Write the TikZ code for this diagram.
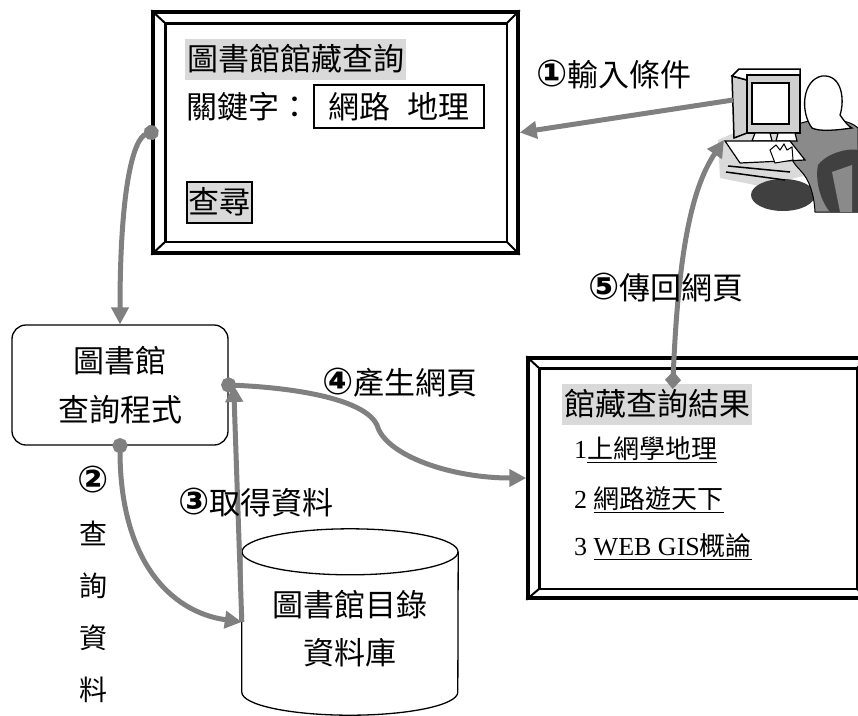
\documentclass[tikz,border=0pt]{standalone}
\usepackage{fontspec}
\setmainfont{Liberation Serif}
\newfontfamily\cjk{Noto Sans CJK TC}
\newfontfamily\circfont{DejaVu Sans Bold}
\usetikzlibrary{arrows.meta,calc}
\definecolor{flowgray}{HTML}{808080}
\definecolor{hlgray}{HTML}{D9D9D9}
\definecolor{chairgray}{HTML}{404040}
\definecolor{bodygray}{HTML}{8A8A8A}
\definecolor{panelgray}{HTML}{D0D0D0}
\newcommand\fsz[1]{\fontsize{#1}{#1}\selectfont}
\newcommand\stepno[1]{{\circfont\fontsize{37}{37}\selectfont #1}}
\tikzset{
  flow/.style={line width=5pt, draw=flowgray},
  arrowend/.style={-{Triangle[length=17pt,width=17pt]}},
  dottip/.style={{Circle[length=15pt]}-{Triangle[length=17pt,width=17pt]}, shorten <=-7.5pt},
  diamondtip/.style={{Diamond[length=18pt,width=16pt]}-{Triangle[length=17pt,width=17pt]}, shorten <=-9pt},
  bevelframe/.style={draw, line width=3.5pt, inner sep=0pt},
  hlbox/.style={fill=hlgray, inner xsep=2pt, inner ysep=5pt, text height=27pt, text depth=4pt, font=\cjk\fsz{31}},
  steptext/.style={font=\cjk\fsz{31}, inner sep=0pt},
  itemtext/.style={font=\fsz{26}, inner sep=0pt, anchor=west},
}
\begin{document}
\begin{tikzpicture}[x=1pt,y=-1pt]
\useasboundingbox (0,0) rectangle (858,715);

% ---------- search form window ----------
\node[bevelframe, minimum width=365pt, minimum height=241pt] (query) at (335.5,132.5) {};
\node[hlbox, anchor=west] (qtitle) at (185,59) {圖書館館藏查詢};
\node[steptext, anchor=west] (kwlabel) at (186,107) {關鍵字：};
\node[draw, line width=1.6pt, minimum width=170pt, minimum height=43pt, font=\cjk\fsz{31}, inner sep=0pt] (kwbox) at (399,106.5) {網路\hspace{18pt}地理};
\node[hlbox, draw, line width=2pt, inner xsep=1.5pt] (searchbtn) at (219,202) {查尋};

% ---------- result window ----------
\node[bevelframe, minimum width=340pt, minimum height=240pt] (result) at (698,478) {};
\node[hlbox] (rtitle) at (657,404) {館藏查詢結果};
\node[itemtext] (item1) at (574,450) {1\underline{\cjk 上網學地理}};
\node[itemtext] (item2) at (574,500) {2 \underline{\cjk 網路遊天下}};
\node[itemtext] (item3) at (574,547) {3 \underline{WEB GIS{\cjk 概論}}};
\coordinate (rmark) at (673,380);

% inner bevel of both windows
\foreach \f/\l/\t/\r/\b in {query/14/13/13/13, result/13/12/13/11} {
  \draw[line width=2.5pt] ($(\f.north west)+(\l,\t)$) rectangle ($(\f.south east)+(-\r,-\b)$);
  \draw[line width=2pt] (\f.north west) -- ++(\l,\t)
                        (\f.north east) -- ++(-\r,\t)
                        (\f.south west) -- ++(\l,-\b)
                        (\f.south east) -- ++(-\r,-\b);
}

% ---------- query program ----------
\node[draw, line width=1.3pt, rounded corners=14pt, minimum width=216pt, minimum height=120pt,
      align=center, font=\cjk\fontsize{31}{49}\selectfont] (prog) at (120,385) {圖書館\\查詢程式};

% ---------- catalogue database ----------
\node[minimum width=216pt, minimum height=140pt, inner sep=0pt] (db) at (350,622) {};
\draw[line width=1.3pt] (db.north west) -- (db.south west)
  arc[start angle=180, end angle=360, x radius=108pt, y radius=23pt] -- (db.north east);
\draw[line width=1.3pt] (db.north) ellipse [x radius=108pt, y radius=23pt];
\node[align=center, font=\cjk\fontsize{31}{48}\selectfont, inner sep=0pt] (dbtext) at (350,629) {圖書館目錄\\資料庫};

% ---------- workstation clip art ----------
% desk shadow
\fill[panelgray!80] (718,140) -- (745,128) -- (800,128) -- (808,175) -- (760,186) -- (720,178) -- cycle;
% chair base
\fill[chairgray] (783,195) ellipse [x radius=32pt, y radius=16pt];
% back and arm of the user
\filldraw[fill=bodygray, draw=black, line width=1pt] (798,124) .. controls (825,115) and (850,120) .. (858,128)
  -- (858,212) -- (815,212) .. controls (814,195) and (810,180) .. (800,170)
  .. controls (795,165) and (790,158) .. (788,150) .. controls (786,140) and (790,130) .. (798,124) -- cycle;
% chair back
\fill[chairgray] (818,165) .. controls (828,152) and (850,148) .. (858,150) -- (858,212) -- (830,212)
  .. controls (820,200) and (815,180) .. (818,165) -- cycle;
\fill[bodygray] (832,172) -- (852,165) -- (852,212) -- (840,212) -- cycle;
% head and hair
\filldraw[fill=white, draw=black, line width=1.3pt] (812,128) .. controls (800,112) and (802,80) .. (822,76)
  .. controls (842,74) and (845,100) .. (840,115) .. controls (845,122) and (848,126) .. (852,128)
  .. controls (838,130) and (820,132) .. (812,128) -- cycle;
% monitor
\filldraw[fill=panelgray, line width=1.5pt] (732,76) -- (747,80) -- (747,133) -- (734,138) -- cycle;
\filldraw[fill=white, line width=1.5pt] (732,76) -- (739,69) -- (800,69) -- (800,75) -- (747,75) -- (747,80) -- cycle;
\filldraw[fill=panelgray, line width=1.5pt] (747,75) rectangle (800,133);
\filldraw[fill=white, line width=2pt] (752,83) rectangle (789,124);
\filldraw[fill=white, line width=1.2pt] (755,133) -- (770,133) -- (772,141) -- (752,141) -- cycle;
\filldraw[fill=white, line width=1.2pt] (778,133) -- (795,133) -- (797,141) -- (776,141) -- cycle;
% keyboard
\filldraw[fill=white, line width=1.2pt] (725,141) -- (790,141) -- (805,160) -- (740,163) -- cycle;
\draw[line width=1.5pt] (728,166) -- (790,172) (726,172) -- (785,180);
% hands
\filldraw[fill=white, line width=1pt] (770,150) -- (776,145) -- (780,150) -- (784,144) -- (787,150)
  -- (792,147) -- (793,160) -- (775,163) -- cycle;
\coordinate (pc) at (733,100);
\coordinate (kbd) at (724,140);

% ---------- flow connectors ----------
\draw[flow, arrowend] (pc) -- (query.east);
\draw[flow, dottip] (query.west) .. controls (133,138) and (120,190) .. (prog.north);
\draw[flow, dottip] (prog.south) .. controls (120,560) and (170,612) .. (db.west);
\draw[flow, arrowend] (db.west) -- ([xshift=5pt]prog.east);
\draw[flow, dottip] (prog.east) .. controls (300,388) and (365,400) .. (377,425)
  .. controls (385,455) and (450,478) .. (result.west);
\draw[flow, diamondtip] (rmark) .. controls (678,260) and (690,190) .. (kbd);

% ---------- step labels ----------
\node[steptext] (step1) at (614,75) {\stepno{①}輸入條件};
\node[steptext, align=center, font=\cjk\fontsize{28}{52}\selectfont] (step2) at (93,584) {\stepno{②}\\查\\詢\\資\\料};
\node[steptext] (step3) at (256,503) {\stepno{③}取得資料};
\node[steptext] (step4) at (400,383) {\stepno{④}產生網頁};
\node[steptext] (step5) at (666,288) {\stepno{⑤}傳回網頁};
\end{tikzpicture}
\end{document}
